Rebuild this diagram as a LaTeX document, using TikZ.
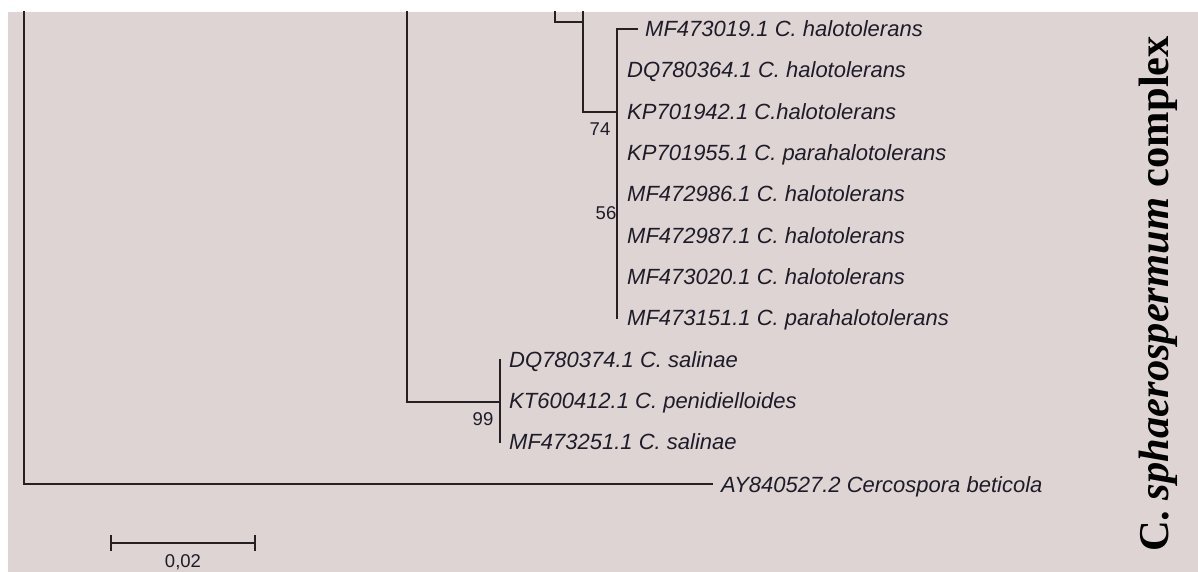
\documentclass[tikz,border=0pt]{standalone}
\usepackage{fontspec}
\setmainfont{Liberation Serif}
\newfontfamily\arialf{Liberation Sans}
\definecolor{bgc}{RGB}{222,212,212}
\definecolor{linec}{RGB}{38,32,34}
\definecolor{txtc}{RGB}{30,28,40}
\begin{document}
\begin{tikzpicture}[x=1pt,y=-1pt,
  branch/.style={draw=linec,line width=1.9pt,line cap=rect},
  taxon/.style={anchor=base west,inner sep=0pt,text=txtc,font=\arialf\itshape\fontsize{22}{26}\selectfont},
  boot/.style={inner sep=0pt,text=txtc,font=\arialf\fontsize{18.5}{22}\selectfont},
  complexlbl/.style={rotate=90,anchor=base,inner sep=0pt,text=black,font=\bfseries\fontsize{42.5}{48}\selectfont}]
\useasboundingbox (0,0) rectangle (1198,572);
\fill[white] (0,0) rectangle (1198,572);
\fill[bgc] (8,12) rectangle (1198,572);
% internal node coordinates
\coordinate (rootT) at (24,12);
\coordinate (root) at (24,484);
\coordinate (cA) at (407,12);
\coordinate (cAb) at (407,402);
\coordinate (c99) at (500,402);
\coordinate (c99t) at (500,360);
\coordinate (c99b) at (500,442);
\coordinate (cB) at (555,12);
\coordinate (cBb) at (555,22);
\coordinate (cC) at (583,22);
\coordinate (cCt) at (583,12);
\coordinate (cCb) at (583,112);
\coordinate (c74) at (617,112);
\coordinate (c74t) at (617,29);
\coordinate (c74b) at (617,318);
\coordinate (leafMF19) at (637,29);
\coordinate (leafAY) at (712,484);
% taxa
\node[taxon] (tMF19) at (645,36.5) {MF473019.1 C. halotolerans};
\node[taxon] (tDQ64) at (627,77.8) {DQ780364.1 C. halotolerans};
\node[taxon] (tKP42) at (627,119.1) {KP701942.1 C.halotolerans};
\node[taxon] (tKP55) at (627,160.4) {KP701955.1 C. parahalotolerans};
\node[taxon] (tMF86) at (627,201.7) {MF472986.1 C. halotolerans};
\node[taxon] (tMF87) at (627,243.0) {MF472987.1 C. halotolerans};
\node[taxon] (tMF20) at (627,284.3) {MF473020.1 C. halotolerans};
\node[taxon] (tMF51) at (627,325.6) {MF473151.1 C. parahalotolerans};
\node[taxon] (tDQ74) at (509,367.5) {DQ780374.1 C. salinae};
\node[taxon] (tKT12) at (509,408.5) {KT600412.1 C. penidielloides};
\node[taxon] (tMF251) at (509,449) {MF473251.1 C. salinae};
\node[taxon] (tAY) at (721,492) {AY840527.2 Cercospora beticola};
% bootstrap values
\node[boot] (b74) at (600,129) {74};
\node[boot] (b56) at (606,213) {56};
\node[boot] (b99) at (483,419) {99};
% branches
\draw[branch] (rootT) -- (root) -- (leafAY);
\draw[branch] (cA) -- (cAb) -- (c99);
\draw[branch] (c99t) -- (c99b);
\draw[branch] (cB) -- (cBb) -- (cC);
\draw[branch] (cCt) -- (cCb) -- (c74);
\draw[branch] (c74t) -- (c74b);
\draw[branch] (c74t) -- (leafMF19);
% scale bar
\coordinate (sbL) at (111,543);
\coordinate (sbR) at (255,543);
\draw[branch,line cap=butt] (sbL) -- (sbR);
\draw[branch,line cap=butt] ([yshift=-8]sbL) -- ([yshift=8]sbL);
\draw[branch,line cap=butt] ([yshift=-8]sbR) -- ([yshift=8]sbR);
\node[boot] (sbl) at (183,562) {0,02};
% clade label
\node[complexlbl] (cx) at (1168,294) {C. \textit{sphaerospermum} complex};
\end{tikzpicture}
\end{document}
